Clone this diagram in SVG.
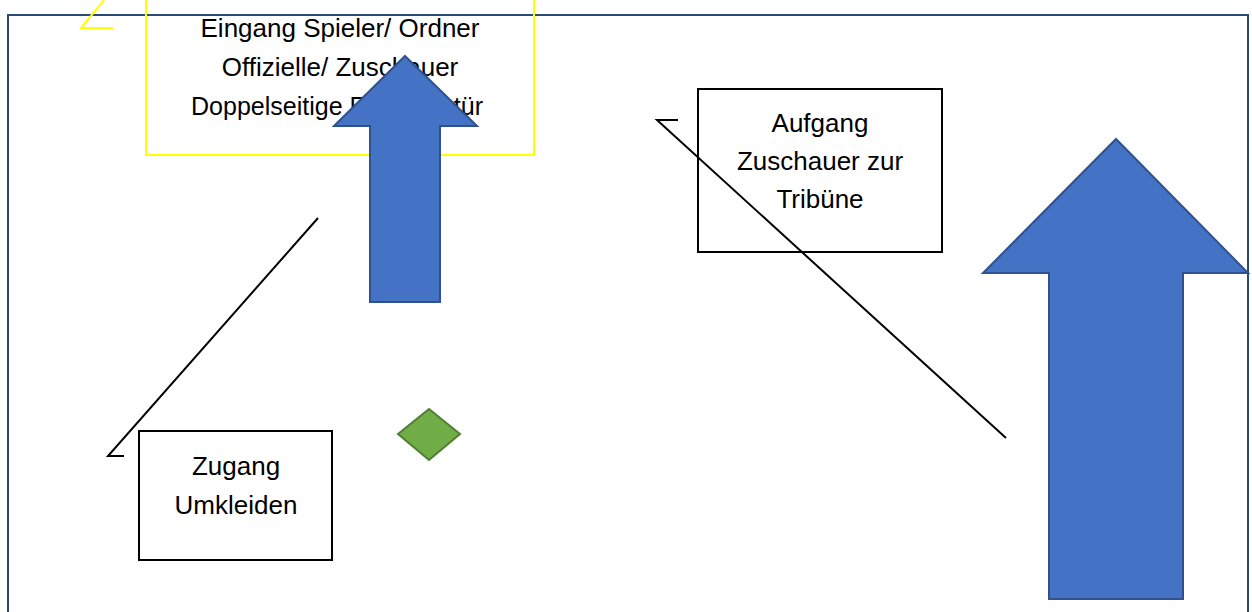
<svg xmlns="http://www.w3.org/2000/svg" width="1252" height="612" viewBox="0 0 1252 612">
<style>
.lbl{font-family:"Liberation Sans",Arial,sans-serif;font-size:26px;fill:#000;text-anchor:middle}
.box{fill:#fff;stroke:#000;stroke-width:2}
.arrow{fill:#4472C4;stroke:#2F528F;stroke-width:2;stroke-linejoin:miter}
.conn{fill:none;stroke:#000;stroke-width:2}
</style>
<rect width="1252" height="612" fill="#fff"/>
<g id="frame">
<rect x="8" y="15" width="1240" height="620" fill="none" stroke="#2A4878" stroke-width="2"/>
</g>
<g id="yellow-marker">
<polyline points="104,0 81,28 113,28" fill="none" stroke="#FFFF00" stroke-width="2"/>
</g>
<g id="eingang">
<rect x="146" y="-10" width="388" height="165" fill="none" stroke="#FFFF00" stroke-width="2"/>
<text class="lbl" x="340" y="37">Eingang Spieler/ Ordner</text>
<text class="lbl" x="340" y="76">Offizielle/ Zuschauer</text>
<text class="lbl" x="337" y="115" textLength="292" lengthAdjust="spacingAndGlyphs">Doppelseitige Eingangstür</text>
</g>
<g id="aufgang">
<rect class="box" x="698" y="89" width="244" height="163"/>
<text class="lbl" x="820" y="132">Aufgang</text>
<text class="lbl" x="820" y="170">Zuschauer zur</text>
<text class="lbl" x="820" y="208">Tribüne</text>
</g>
<g id="zugang">
<rect class="box" x="139" y="431" width="193" height="129"/>
<text class="lbl" x="236" y="475">Zugang</text>
<text class="lbl" x="236" y="514">Umkleiden</text>
</g>
<g id="connectors">
<polyline class="conn" points="318,218 108,456 124,456"/>
<polyline class="conn" points="678,120 657,120 1006,438"/>
</g>
<g id="arrow-small">
<polygon class="arrow" points="405,56 477,126 440,126 440,302 370,302 370,126 334,126"/>
</g>
<g id="arrow-big">
<polygon class="arrow" points="1116,139 1248,273 1183,273 1183,599 1049,599 1049,273 983,273"/>
</g>
<g id="diamond">
<polygon points="429,409 460,434 429,460 398,434" fill="#70AD47" stroke="#507E32" stroke-width="2"/>
</g>
</svg>
